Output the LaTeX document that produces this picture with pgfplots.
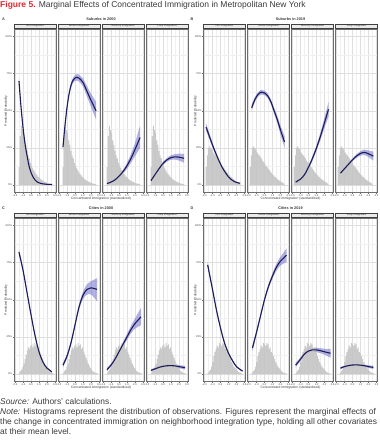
\documentclass[border=0pt]{standalone}
\usepackage{fontspec}
\setmainfont{Liberation Sans}
\usepackage{pgfplots}
\pgfplotsset{compat=1.18}
\usepackage{pgfplotstable}
\usepgfplotslibrary{fillbetween}

\definecolor{curve}{HTML}{1C1C5A}
\definecolor{band}{HTML}{6F6FCC}
\definecolor{histc}{HTML}{C4C4C4}
\definecolor{figred}{HTML}{E3262F}
\definecolor{txt}{HTML}{3A3A3A}
\definecolor{frame}{HTML}{6E6E6E}

% ---------- histograms (left bin edge, height) ----------
\pgfplotstableread{
x h
-1.55 0.12
-1.41 0.33
-1.27 0.40
-1.13 0.37
-0.99 0.35
-0.85 0.30
-0.71 0.27
-0.57 0.23
-0.43 0.20
-0.29 0.18
-0.15 0.15
-0.01 0.13
0.13 0.115
0.27 0.10
0.41 0.085
0.55 0.075
0.69 0.065
0.83 0.055
0.97 0.05
1.11 0.042
1.25 0.035
1.39 0.03
1.53 0.025
1.67 0.022
1.81 0.018
1.95 0.015
2.09 0.012
2.23 0.01
2.37 0.008
2.51 0.006
2.65 0
}\hA
\pgfplotstableread{
x h
-1.84 0.12
-1.70 0.20
-1.56 0.25
-1.42 0.26
-1.28 0.25
-1.14 0.24
-1.00 0.22
-0.86 0.21
-0.72 0.20
-0.58 0.19
-0.44 0.18
-0.30 0.165
-0.16 0.155
-0.02 0.145
0.12 0.13
0.26 0.12
0.40 0.11
0.54 0.10
0.68 0.09
0.82 0.08
0.96 0.07
1.10 0.065
1.24 0.055
1.38 0.05
1.52 0.04
1.66 0.035
1.80 0.03
1.94 0.025
2.08 0.02
2.22 0.015
2.36 0.01
2.50 0
}\hB
\pgfplotstableread{
x h
-1.50 0.01
-1.36 0.02
-1.22 0.03
-1.08 0.05
-0.94 0.07
-0.80 0.10
-0.66 0.13
-0.52 0.16
-0.38 0.18
-0.24 0.17
-0.10 0.19
0.04 0.20
0.18 0.18
0.32 0.21
0.46 0.19
0.60 0.20
0.74 0.17
0.88 0.18
1.02 0.15
1.16 0.13
1.30 0.11
1.44 0.09
1.58 0.07
1.72 0.055
1.86 0.04
2.00 0.03
2.14 0.02
2.28 0.015
2.42 0.01
2.56 0.006
2.70 0.004
2.84 0
}\hC
\pgfplotstableread{
x h
-1.60 0.01
-1.46 0.02
-1.32 0.03
-1.18 0.05
-1.04 0.08
-0.90 0.12
-0.76 0.15
-0.62 0.17
-0.48 0.19
-0.34 0.18
-0.20 0.21
-0.06 0.20
0.08 0.19
0.22 0.21
0.36 0.20
0.50 0.17
0.64 0.18
0.78 0.15
0.92 0.14
1.06 0.12
1.20 0.10
1.34 0.08
1.48 0.065
1.62 0.05
1.76 0.04
1.90 0.03
2.04 0.022
2.18 0.015
2.32 0.01
2.46 0.007
2.60 0.004
2.74 0
}\hD

% ---------- predicted probabilities (x, y, lower, upper) ----------
\pgfplotstableread{
x y lo hi
-1.5 0.70 0.685 0.715
-1.25 0.53 0.518 0.542
-1.0 0.39 0.38 0.40
-0.75 0.28 0.272 0.288
-0.5 0.20 0.194 0.206
-0.25 0.13 0.125 0.135
0 0.085 0.081 0.089
0.25 0.055 0.052 0.058
0.5 0.035 0.032 0.038
0.75 0.022 0.02 0.024
1.0 0.015 0.013 0.017
1.5 0.008 0.006 0.01
2.0 0.005 0.003 0.007
2.63 0.004 0.002 0.006
}\cAa
\pgfplotstableread{
x y lo hi
-1.5 0.255 0.235 0.275
-1.25 0.40 0.383 0.417
-1.0 0.52 0.505 0.535
-0.75 0.61 0.595 0.625
-0.5 0.67 0.655 0.685
-0.25 0.705 0.688 0.722
0 0.72 0.70 0.74
0.25 0.725 0.703 0.747
0.5 0.72 0.697 0.743
1.0 0.69 0.663 0.717
1.5 0.63 0.595 0.665
2.0 0.57 0.525 0.615
2.63 0.50 0.44 0.56
}\cAb
\pgfplotstableread{
x y lo hi
-1.5 0.01 0.005 0.015
-1.0 0.02 0.014 0.026
-0.5 0.035 0.028 0.042
0 0.06 0.05 0.07
0.5 0.09 0.077 0.103
1.0 0.13 0.11 0.15
1.5 0.18 0.15 0.21
2.0 0.24 0.195 0.285
2.63 0.32 0.25 0.40
}\cAc
\pgfplotstableread{
x y lo hi
-1.5 0.03 0.02 0.04
-1.0 0.07 0.06 0.08
-0.5 0.11 0.10 0.12
0 0.145 0.135 0.155
0.5 0.17 0.158 0.182
1.0 0.185 0.17 0.20
1.5 0.19 0.172 0.208
2.0 0.188 0.165 0.211
2.63 0.18 0.15 0.21
}\cAd
\pgfplotstableread{
x y lo hi
-1.8 0.39 0.365 0.415
-1.4 0.33 0.31 0.35
-1.0 0.27 0.254 0.286
-0.6 0.215 0.203 0.227
-0.2 0.165 0.156 0.174
0.2 0.12 0.113 0.127
0.6 0.085 0.079 0.091
1.0 0.055 0.05 0.06
1.4 0.035 0.031 0.039
1.8 0.022 0.018 0.026
2.1 0.016 0.012 0.02
2.44 0.012 0.008 0.016
}\cBa
\pgfplotstableread{
x y lo hi
-1.6 0.52 0.50 0.54
-1.2 0.575 0.558 0.592
-0.8 0.61 0.595 0.625
-0.4 0.625 0.61 0.64
0 0.62 0.605 0.635
0.4 0.60 0.585 0.615
0.8 0.56 0.543 0.577
1.2 0.50 0.48 0.52
1.6 0.44 0.415 0.465
2.0 0.37 0.34 0.40
2.5 0.29 0.25 0.33
}\cBb
\pgfplotstableread{
x y lo hi
-1.6 0.02 0.012 0.028
-1.0 0.04 0.032 0.048
-0.5 0.07 0.06 0.08
0 0.12 0.108 0.132
0.5 0.18 0.165 0.195
1.0 0.25 0.232 0.268
1.5 0.33 0.305 0.355
2.0 0.42 0.385 0.455
2.5 0.51 0.46 0.56
}\cBc
\pgfplotstableread{
x y lo hi
-1.5 0.08 0.07 0.09
-1.0 0.11 0.10 0.12
-0.5 0.14 0.13 0.15
0 0.17 0.16 0.18
0.5 0.195 0.183 0.207
1.0 0.213 0.198 0.228
1.5 0.22 0.202 0.238
2.0 0.21 0.188 0.232
2.6 0.195 0.165 0.225
}\cBd
\pgfplotstableread{
x y lo hi
-1.5 0.82 0.80 0.84
-1.0 0.70 0.685 0.715
-0.5 0.55 0.538 0.562
0 0.40 0.39 0.41
0.5 0.26 0.25 0.27
1.0 0.15 0.142 0.158
1.5 0.08 0.074 0.086
2.0 0.04 0.035 0.045
2.6 0.015 0.011 0.019
}\cCa
\pgfplotstableread{
x y lo hi
-1.5 0.06 0.045 0.075
-1.0 0.12 0.105 0.135
-0.5 0.21 0.195 0.225
0 0.33 0.315 0.345
0.5 0.45 0.432 0.468
1.0 0.53 0.505 0.555
1.5 0.57 0.535 0.605
2.0 0.58 0.535 0.625
2.75 0.57 0.49 0.645
}\cCb
\pgfplotstableread{
x y lo hi
-1.5 0.03 0.02 0.04
-1.0 0.06 0.05 0.07
-0.5 0.10 0.09 0.11
0 0.15 0.138 0.162
0.5 0.20 0.185 0.215
1.0 0.25 0.23 0.27
1.5 0.30 0.275 0.325
2.0 0.34 0.305 0.375
2.75 0.385 0.33 0.445
}\cCc
\pgfplotstableread{
x y lo hi
-1.5 0.025 0.018 0.032
-1.0 0.035 0.028 0.042
-0.5 0.045 0.038 0.052
0 0.052 0.045 0.059
0.5 0.056 0.049 0.063
1.0 0.057 0.049 0.065
1.5 0.055 0.046 0.064
2.0 0.05 0.04 0.06
2.75 0.043 0.03 0.056
}\cCd
\pgfplotstableread{
x y lo hi
-1.6 0.735 0.715 0.755
-1.0 0.57 0.555 0.585
-0.5 0.43 0.418 0.442
0 0.31 0.30 0.32
0.5 0.21 0.202 0.218
1.0 0.14 0.133 0.147
1.5 0.09 0.084 0.096
2.0 0.05 0.045 0.055
2.75 0.02 0.016 0.024
}\cDa
\pgfplotstableread{
x y lo hi
-1.5 0.175 0.155 0.195
-1.0 0.28 0.265 0.295
-0.5 0.39 0.377 0.403
0 0.50 0.487 0.513
0.5 0.59 0.575 0.605
1.0 0.66 0.642 0.678
1.5 0.72 0.697 0.743
2.0 0.76 0.73 0.79
2.75 0.80 0.755 0.845
}\cDb
\pgfplotstableread{
x y lo hi
-1.6 0.06 0.045 0.075
-1.0 0.10 0.088 0.112
-0.5 0.135 0.123 0.147
0 0.155 0.143 0.167
0.5 0.163 0.15 0.176
1.0 0.163 0.148 0.178
1.5 0.157 0.14 0.174
2.0 0.15 0.13 0.17
2.75 0.14 0.11 0.17
}\cDc
\pgfplotstableread{
x y lo hi
-1.5 0.04 0.032 0.048
-1.0 0.05 0.043 0.057
-0.5 0.057 0.05 0.064
0 0.061 0.055 0.067
0.5 0.062 0.056 0.068
1.0 0.06 0.053 0.067
1.5 0.056 0.048 0.064
2.0 0.05 0.041 0.059
2.6 0.045 0.034 0.056
}\cDd

\pgfplotsset{
  facet/.style={
    scale only axis, width=42pt, height=163.5pt,
    xmin=-2.12, xmax=3.12, ymin=-0.05, ymax=1.05,
    xtick={-2,-1,0,1,2,3}, xticklabels={-2.0,-1.0,0.0,1.0,2.0,3.0},
    minor xtick={-1.5,-0.5,0.5,1.5,2.5},
    ytick={0,0.25,0.5,0.75,1}, minor ytick={0.125,0.375,0.625,0.875},
    yticklabels={},
    grid=both,
    major grid style={draw=black!13, line width=0.35pt},
    minor grid style={draw=black!6, line width=0.25pt},
    axis line style={draw=frame, line width=0.35pt},
    tick pos=left, tick align=outside,
    major tick length=1.1pt, minor tick length=0pt,
    xtick style={draw=frame, line width=0.3pt},
    ytick style={draw=none},
    tick label style={font=\fontsize{2.6}{2.8}\selectfont, text=txt},
    xticklabel style={inner sep=0.6pt},
    yticklabel style={inner sep=0.8pt},
    every axis title/.style={at={(0.5,1)}, anchor=south, yshift=0.3pt,
      draw=black!75, fill=black!8, line width=0.35pt,
      minimum width=42pt, minimum height=4.6pt, inner sep=0pt,
      font=\fontsize{2.8}{3}\selectfont, text=txt},
  },
  firstfacet/.style={
    yticklabels={0\%,25\%,50\%,75\%,100\%},
    ytick style={draw=frame, line width=0.3pt},
  },
}

\newcommand{\facet}[6]{%
\begin{axis}[facet, at={(#1pt,#2pt)}, title={#5}, #6]
\addplot[ybar interval, fill=histc, draw=none, fill opacity=0.9] table[x=x,y=h]{#3};
\addplot[name path=hi, draw=none, smooth] table[x=x,y=hi]{#4};
\addplot[name path=lo, draw=none, smooth] table[x=x,y=lo]{#4};
\addplot[fill=band, fill opacity=0.55, draw=none] fill between[of=hi and lo];
\addplot[draw=curve, line width=1.1pt, smooth] table[x=x,y=y]{#4};
\end{axis}}

\begin{document}
\begin{tikzpicture}[x=1pt,y=1pt]
\path (0,0) rectangle (380,440);

% title
\node[anchor=base west, inner sep=0pt, font=\fontsize{8.5}{10}\selectfont] at (0,432.5)
  {\textcolor{figred}{\textbf{Figure 5.}} \textcolor{txt}{Marginal Effects of Concentrated Immigration in Metropolitan New York}};

% panel A
\facet{14}{247.5}{\hA}{\cAa}{Not integrated}{firstfacet}
\facet{58}{247.5}{\hA}{\cAb}{White integrated}{}
\facet{102}{247.5}{\hA}{\cAc}{Minority integrated}{}
\facet{146}{247.5}{\hA}{\cAd}{Fully integrated}{}
% panel B
\facet{203.5}{247.5}{\hB}{\cBa}{Not integrated}{firstfacet}
\facet{247.5}{247.5}{\hB}{\cBb}{White integrated}{}
\facet{291.5}{247.5}{\hB}{\cBc}{Minority integrated}{}
\facet{335.5}{247.5}{\hB}{\cBd}{Fully integrated}{}
% panel C
\facet{14}{58.5}{\hC}{\cCa}{Not integrated}{firstfacet}
\facet{58}{58.5}{\hC}{\cCb}{White integrated}{}
\facet{102}{58.5}{\hC}{\cCc}{Minority integrated}{}
\facet{146}{58.5}{\hC}{\cCd}{Fully integrated}{}
% panel D
\facet{203.5}{58.5}{\hD}{\cDa}{Not integrated}{firstfacet}
\facet{247.5}{58.5}{\hD}{\cDb}{White integrated}{}
\facet{291.5}{58.5}{\hD}{\cDc}{Minority integrated}{}
\facet{335.5}{58.5}{\hD}{\cDd}{Fully integrated}{}

% panel letters and titles
\begin{scope}[every node/.style={font=\fontsize{3.8}{4.2}\selectfont\bfseries, text=txt, inner sep=0pt}]
\node at (3.5,420.5) {A};
\node at (101,420.5) {Suburbs in 2000};
\node at (192,420.5) {B};
\node at (290.5,420.5) {Suburbs in 2019};
\node at (3.5,232) {C};
\node at (101,232) {Cities in 2000};
\node at (192,232) {D};
\node at (290.5,232) {Cities in 2019};
\end{scope}

% axis labels
\begin{scope}[every node/.style={font=\fontsize{3.3}{3.6}\selectfont, text=txt, inner sep=0pt}]
\node[rotate=90] at (6,329) {Predicted Probability};
\node[rotate=90] at (195.5,329) {Predicted Probability};
\node[rotate=90] at (6,140) {Predicted Probability};
\node[rotate=90] at (195.5,140) {Predicted Probability};
\node at (101,241) {Concentrated immigration (standardized)};
\node at (290.5,241) {Concentrated immigration (standardized)};
\node at (101,52) {Concentrated immigration (standardized)};
\node at (290.5,52) {Concentrated immigration (standardized)};
\end{scope}

% notes
\begin{scope}[every node/.style={anchor=base west, inner sep=0pt, font=\fontsize{8.4}{10}\selectfont, text=txt}]
\node at (0,35.5) {\textit{Source:} Authors' calculations.};
\node at (0,25.5) {\textit{Note:} Histograms represent the distribution of observations. Figures represent the marginal effects of};
\node at (0,15.5) {the change in concentrated immigration on neighborhood integration type, holding all other covariates};
\node at (0,5.5) {at their mean level.};
\end{scope}
\end{tikzpicture}
\end{document}
